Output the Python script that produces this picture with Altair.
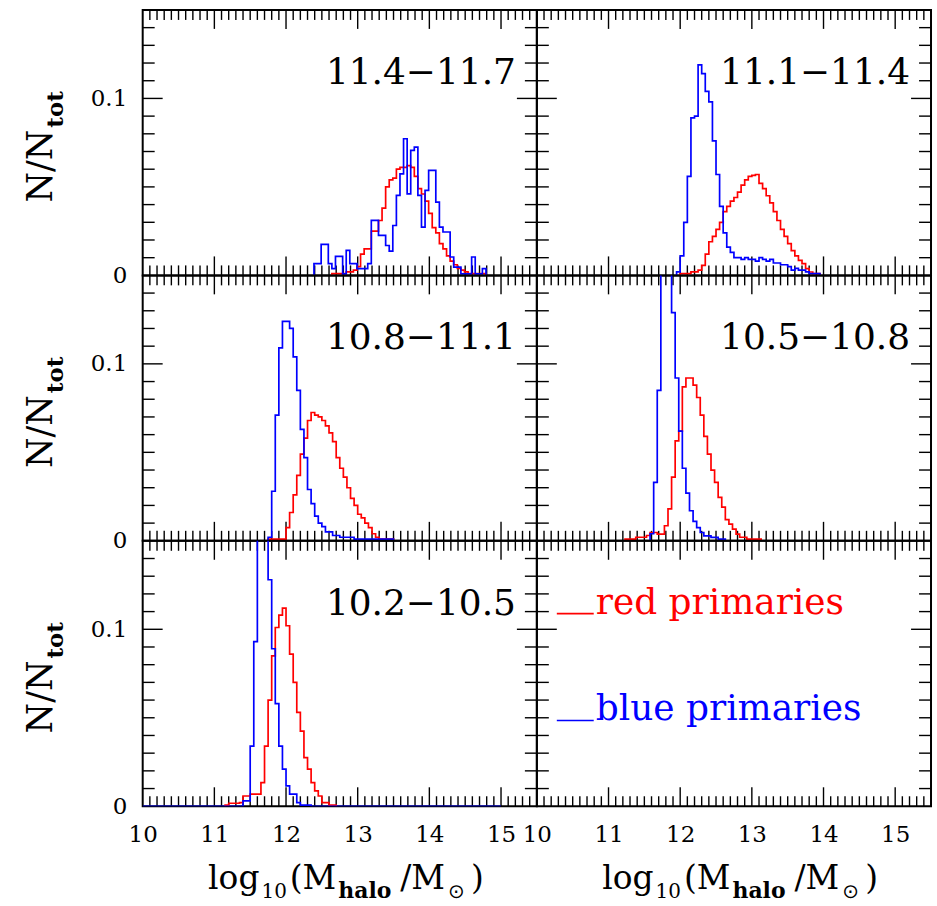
import altair as alt
import pandas as pd

# ---------------- data ----------------
BIN = 0.05
X_MIN, X_MAX = 10.0, 15.5
Y_MAX = 0.15

PANEL_LABELS = ["11.4\u221211.7", "11.1\u221211.4", "10.8\u221211.1", "10.5\u221210.8", "10.2\u221210.5"]

P1_RED_START = 12.64
P1_RED = [0.001, 0.001, 0.001, 0.001, 0.002, 0.002, 0.003, 0.005, 0.012, 0.015, 0.015, 0.025,
          0.025, 0.031, 0.038, 0.050, 0.054, 0.055, 0.060, 0.061, 0.061, 0.062, 0.061, 0.056,
          0.049, 0.046, 0.042, 0.035, 0.027, 0.024, 0.018, 0.015, 0.011, 0.008, 0.006, 0.004,
          0.003, 0.002, 0.001, 0.001, 0.001, 0.001, 0.001]
P1_BLUE_START = 12.39
P1_BLUE = [0.0066, 0.0066, 0.0175, 0.0175, 0.0066, 0.0038, 0.0107, 0.0107, 0.0009, 0.0141,
           0.0066, 0.0066, 0.0038, 0.0038, 0.0038, 0.0066, 0.0311, 0.0311, 0.0226, 0.0226,
           0.0169, 0.0137, 0.0282, 0.0452, 0.0574, 0.0772, 0.0461, 0.0706, 0.0725, 0.0452,
           0.0273, 0.048, 0.0593, 0.0593, 0.0414, 0.0273, 0.0245, 0.0245, 0.0104, 0.0047,
           0.0047, 0.0009, 0.0009, 0.0009, 0.0104, 0.0009, 0.0009, 0.0038]

P2_RED_START = 12.00
P2_RED = [0.001, 0.001, 0.001, 0.002, 0.002, 0.003, 0.0056, 0.012, 0.019, 0.022, 0.026, 0.030,
          0.036, 0.039, 0.042, 0.044, 0.047, 0.051, 0.054, 0.056, 0.0565, 0.057, 0.052, 0.049,
          0.045, 0.041, 0.036, 0.031, 0.026, 0.022, 0.018, 0.014, 0.011, 0.0085, 0.0066,
          0.0038, 0.0019, 0.001, 0.001]
P2_BLUE_START = 11.95
P2_BLUE = [0.002, 0.011, 0.030, 0.056, 0.089, 0.090, 0.119, 0.114, 0.104, 0.098, 0.076, 0.057,
           0.039, 0.024, 0.016, 0.013, 0.010, 0.010, 0.009, 0.010, 0.009, 0.009, 0.008, 0.010,
           0.009, 0.008, 0.009, 0.007, 0.007, 0.006, 0.006, 0.005, 0.003, 0.004, 0.003, 0.003,
           0.002, 0.001, 0.001, 0.001]

P3_RED_START = 11.50
P3_RED = [0.0, 0.0, 0.0, 0.0, 0.0, 0.001, 0.001, 0.001, 0.001, 0.001, 0.0075, 0.016, 0.026,
          0.037, 0.049, 0.058, 0.068, 0.0725, 0.071, 0.070, 0.068, 0.065, 0.061, 0.056, 0.047,
          0.041, 0.036, 0.030, 0.024, 0.020, 0.015, 0.013, 0.010, 0.0075, 0.004, 0.002, 0.001,
          0.001, 0.001, 0.001]
P3_BLUE_START = 11.75
P3_BLUE = [0.002, 0.028, 0.071, 0.109, 0.124, 0.124, 0.120, 0.104, 0.085, 0.063, 0.047, 0.029,
           0.021, 0.014, 0.010, 0.008, 0.005, 0.005, 0.003, 0.003, 0.002, 0.002, 0.002, 0.002,
           0.001, 0.001, 0.001, 0.001, 0.001, 0.001, 0.001, 0.001, 0.001, 0.001, 0.001]

P4_RED_START = 11.23
P4_RED = [0.001, 0.001, 0.001, 0.002, 0.002, 0.002, 0.003, 0.0047, 0.0047, 0.0038, 0.0038,
          0.0085, 0.018, 0.036, 0.0565, 0.062, 0.087, 0.092, 0.092, 0.088, 0.081, 0.071, 0.059,
          0.049, 0.040, 0.033, 0.0245, 0.019, 0.012, 0.0094, 0.0066, 0.0038, 0.002, 0.002,
          0.001, 0.001, 0.001, 0.001]
P4_BLUE_START = 11.58
P4_BLUE = [0.004, 0.033, 0.085, 0.175, 0.20, 0.175, 0.129, 0.092, 0.062, 0.041, 0.027, 0.017,
           0.011, 0.0075, 0.0047, 0.0028, 0.0028, 0.0019, 0.0019, 0.001, 0.001]

P5_RED_START = 11.15
P5_RED = [0.0006, 0.0017, 0.0017, 0.0017, 0.002, 0.0058, 0.0058, 0.0068, 0.0068, 0.0068,
          0.0134, 0.034, 0.060, 0.085, 0.101, 0.108, 0.112, 0.102, 0.086, 0.070, 0.053, 0.0425,
          0.0275, 0.021, 0.0134, 0.0087, 0.0058, 0.002, 0.002, 0.0006, 0.0006]
P5_BLUE_START = 11.40
P5_BLUE = [0.003, 0.003, 0.034, 0.093, 0.175, 0.20, 0.175, 0.128, 0.089, 0.058, 0.034, 0.021,
           0.0115, 0.0068, 0.0068, 0.002, 0.0006, 0.0006, 0.0006]
P5_BLUE_RANGE = (10.0, 15.0)

X_TICK_LABELS = [10, 11, 12, 13, 14, 15]
Y_TICK_LABELS = [0, 0.1]
LEGEND = ["red primaries", "blue primaries"]

# ---------------- styling ----------------
FONT = "DejaVu Serif"
W, H = 395, 266
RED, BLUE = "#ff0000", "#0000ff"
XS = alt.Scale(domain=[X_MIN, X_MAX], nice=False, zero=False)
YS = alt.Scale(domain=[0, Y_MAX], nice=False, zero=True)

X_MINOR = [round(10 + 0.1 * i, 1) for i in range(1, 55) if i % 10 != 0]
X_MAJOR = [11, 12, 13, 14, 15]
Y_MINOR = [round(0.01 * i, 2) for i in range(1, 15) if i != 10]
Y_MAJOR = [0.1]

ONE = pd.DataFrame({"a": [0]})


def make_axes(show_x, show_y):
    xaxis = alt.Axis(values=X_TICK_LABELS, format="d", title=None, ticks=False, domain=False,
                     grid=False, labelFont=FONT, labelFontSize=23, labelPadding=17,
                     labelFlush=False, labelOverlap=False, labelColor="black") if show_x else None
    yaxis = alt.Axis(values=Y_TICK_LABELS, format="~g", title=None, ticks=False, domain=False,
                     grid=False, labelFont=FONT, labelFontSize=23, labelPadding=16,
                     labelFlush=False, labelOverlap=False, labelColor="black") if show_y else None
    return xaxis, yaxis


def outline(start, vals, series, rng=None):
    pts = []
    if rng:
        pts.append((rng[0], 0.0))
    pts.append((start, 0.0))
    for k, v in enumerate(vals):
        pts.append((round(start + k * BIN, 4), v))
    pts.append((round(start + len(vals) * BIN, 4), 0.0))
    if rng:
        pts.append((rng[1], 0.0))
    return pd.DataFrame({"m": [p[0] for p in pts], "f": [p[1] for p in pts],
                         "series": series, "i": list(range(len(pts)))})


def hist_layer(df, color, xa, ya):
    return alt.Chart(df).mark_line(interpolate="step-after", clip=True, color=color,
                                   strokeWidth=1.7).encode(
        x=alt.X("m:Q", scale=XS, axis=xa),
        y=alt.Y("f:Q", scale=YS, axis=ya),
        order="i:Q")


def tick_layers(xa, ya):
    out = []
    for vals, L in [(X_MINOR, 10), (X_MAJOR, 19)]:
        d = pd.DataFrame({"m": vals})
        b = alt.Chart(d).mark_rule(color="black", strokeWidth=1.4)
        out.append(b.encode(x=alt.X("m:Q", scale=XS, axis=xa), y=alt.value(H), y2=alt.value(H - L)))
        out.append(b.encode(x=alt.X("m:Q", scale=XS, axis=xa), y=alt.value(0), y2=alt.value(L)))
    for vals, L in [(Y_MINOR, 12), (Y_MAJOR, 20)]:
        d = pd.DataFrame({"f": vals})
        b = alt.Chart(d).mark_rule(color="black", strokeWidth=1.4)
        out.append(b.encode(y=alt.Y("f:Q", scale=YS, axis=ya), x=alt.value(0), x2=alt.value(L)))
        out.append(b.encode(y=alt.Y("f:Q", scale=YS, axis=ya), x=alt.value(W), x2=alt.value(W - L)))
    return out


def txt(text, x, y, size, color="black", align="left", weight="normal", angle=0, font=FONT):
    kw = dict(text=text, align=align, baseline="alphabetic", font=font, fontSize=size,
              color=color, fontWeight=weight)
    if angle:
        kw["angle"] = angle
    return alt.Chart(ONE).mark_text(**kw).encode(x=alt.value(x), y=alt.value(y))


def y_title():
    return [txt("N/N", -91, 120, 35, align="right", angle=270),
            txt("tot", -80, 118, 23, align="left", weight="bold", angle=270)]


def x_title():
    yb, ys = 349, 358
    return [txt("log", 117, yb, 33, align="right"),
            txt("10", 119, ys, 20),
            txt("(M", 194, yb, 33, align="right"),
            txt("halo", 196, ys, 22, weight="bold"),
            txt("/M", 303, yb, 33, align="right"),
            txt("\u2299", 306, ys, 20, font="DejaVu Sans"),
            txt(")", 329, yb, 33)]


def panel(label, red, blue, show_x, show_y):
    xa, ya = make_axes(show_x, show_y)
    layers = tick_layers(xa, ya)
    if red is not None:
        layers.append(hist_layer(red, RED, xa, ya))
        layers.append(hist_layer(blue, BLUE, xa, ya))
    if label:
        layers.append(txt(label, W - 21, 74, 36, align="right"))
    if show_y:
        layers += y_title()
    if show_x:
        layers += x_title()
    return layers


p1 = panel(PANEL_LABELS[0], outline(P1_RED_START, P1_RED, "red"),
           outline(P1_BLUE_START, P1_BLUE, "blue"), False, True)
p2 = panel(PANEL_LABELS[1], outline(P2_RED_START, P2_RED, "red"),
           outline(P2_BLUE_START, P2_BLUE, "blue"), False, False)
p3 = panel(PANEL_LABELS[2], outline(P3_RED_START, P3_RED, "red"),
           outline(P3_BLUE_START, P3_BLUE, "blue"), False, True)
p4 = panel(PANEL_LABELS[3], outline(P4_RED_START, P4_RED, "red"),
           outline(P4_BLUE_START, P4_BLUE, "blue"), False, False)
p5 = panel(PANEL_LABELS[4], outline(P5_RED_START, P5_RED, "red"),
           outline(P5_BLUE_START, P5_BLUE, "blue", P5_BLUE_RANGE), True, True)
p6 = panel(None, None, None, True, False) + [
    alt.Chart(ONE).mark_rule(color=RED, strokeWidth=1.6).encode(
        x=alt.value(20), x2=alt.value(57), y=alt.value(73)),
    txt(LEGEND[0], 59, 73, 36, color=RED),
    alt.Chart(ONE).mark_rule(color=BLUE, strokeWidth=1.6).encode(
        x=alt.value(20), x2=alt.value(57), y=alt.value(180)),
    txt(LEGEND[1], 59, 180, 36, color=BLUE),
]

panels = [alt.layer(*p).properties(width=W, height=H) for p in [p1, p2, p3, p4, p5, p6]]

chart = alt.concat(*panels, columns=2, spacing=0, bounds="flush").properties(
    padding={"left": 23, "top": 7, "right": 4, "bottom": 2},
    background="white",
).configure_view(stroke="black", strokeWidth=2)

chart.save("out.html", embed_options={"renderer": "svg", "actions": False})
